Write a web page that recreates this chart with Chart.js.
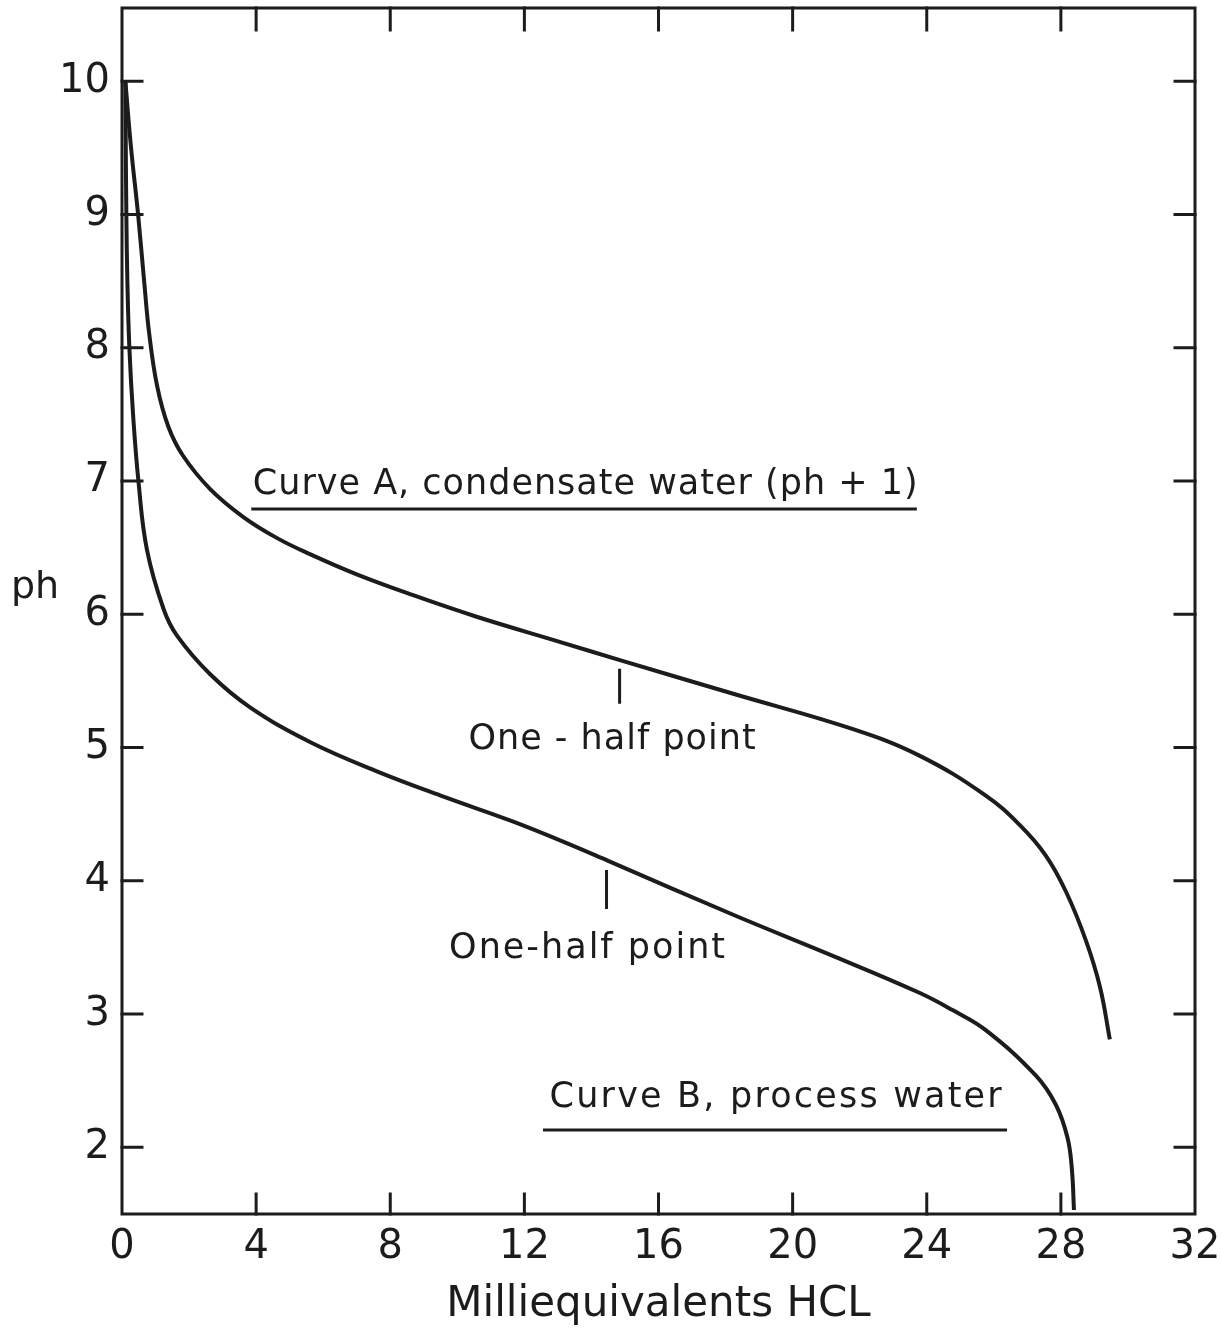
<!DOCTYPE html>
<html lang="en">
<head>
<meta charset="UTF-8">
<title>Titration curves - pH vs milliequivalents HCL</title>
<script src="https://cdn.jsdelivr.net/npm/chart.js"></script>
<style>
  * { box-sizing: border-box; margin: 0; padding: 0; }
  body { background: #fff; width: 1222px; height: 1334px; overflow: hidden; }
  #wrap { position: relative; width: 1222px; height: 1334px; }
</style>
</head>
<body>
<div id="wrap"><canvas id="titration" width="1222" height="1334"></canvas></div>
<script>
// Curve A, condensate water (plotted as pH + 1)
const mEqA = [0.1, 0.27, 0.48, 0.66, 0.81, 1.05, 1.38, 1.82, 2.63, 3.62, 4.64, 5.62, 7.0, 8.61, 10.6, 13.1, 14.8, 18.28, 21.78, 23.78, 25.76, 26.77, 27.55, 28.15, 28.75, 29.17, 29.46];
const phA  = [10.0, 9.5, 9.0, 8.5, 8.11, 7.71, 7.41, 7.19, 6.94, 6.73, 6.57, 6.45, 6.30, 6.15, 5.98, 5.79, 5.66, 5.4, 5.14, 4.94, 4.64, 4.42, 4.19, 3.92, 3.55, 3.20, 2.81];

// Curve B, process water
const mEqB = [0.1, 0.11, 0.13, 0.16, 0.22, 0.33, 0.49, 0.74, 1.24, 1.64, 2.63, 3.83, 5.62, 7.62, 9.61, 11.61, 13.1, 14.5, 18.28, 21.27, 23.78, 24.77, 25.76, 27.25, 27.85, 28.2, 28.33, 28.39];
const phB  = [10.0, 9.6, 9.0, 8.5, 8.0, 7.5, 7.0, 6.49, 6.04, 5.84, 5.55, 5.3, 5.04, 4.82, 4.63, 4.45, 4.30, 4.15, 3.74, 3.43, 3.16, 3.03, 2.88, 2.54, 2.32, 2.07, 1.83, 1.53];

// axis ticks
const xTickValues = [0, 4, 8, 12, 16, 20, 24, 28, 32];
const yTickValues = [2, 3, 4, 5, 6, 7, 8, 9, 10];

// one-half points (mEq, pH range of the marker)
const halfPointA = { x: 14.84, yTop: 5.58, yBottom: 5.34 };
const halfPointB = { x: 14.45, yTop: 4.07, yBottom: 3.80 };

const INK = '#1c1c1c';
const FONT = "'DejaVu Sans', sans-serif";

function toPoints(xs, ys) {
  return xs.map((x, i) => ({ x, y: ys[i] }));
}

// frame with inward ticks, plus the hand lettered notes
const paperPlugin = {
  id: 'paper',
  afterDatasetsDraw(chart) {
    const { ctx, chartArea: a } = chart;
    const xs = chart.scales.x, ys = chart.scales.y;
    ctx.save();
    ctx.strokeStyle = INK;
    ctx.fillStyle = INK;
    ctx.lineCap = 'square';

    ctx.lineWidth = 3;
    ctx.strokeRect(a.left, a.top, a.right - a.left, a.bottom - a.top);

    ctx.beginPath();
    xTickValues.forEach(v => {
      if (v <= xs.min || v >= xs.max) return;
      const px = xs.getPixelForValue(v);
      ctx.moveTo(px, a.bottom); ctx.lineTo(px, a.bottom - 20);
      ctx.moveTo(px, a.top); ctx.lineTo(px, a.top + 22);
    });
    yTickValues.forEach(v => {
      const py = ys.getPixelForValue(v);
      ctx.moveTo(a.left, py); ctx.lineTo(a.left + 20, py);
      ctx.moveTo(a.right, py); ctx.lineTo(a.right - 20, py);
    });
    ctx.stroke();

    // y title, upright
    ctx.font = `38px ${FONT}`;
    ctx.textAlign = 'center';
    ctx.textBaseline = 'middle';
    ctx.fillText('ph', 35, 588);

    // curve labels
    ctx.font = `35px ${FONT}`;
    ctx.textAlign = 'left';
    ctx.textBaseline = 'alphabetic';
    ctx.letterSpacing = '1px';
    ctx.fillText('Curve A, condensate water (ph + 1)', xs.getPixelForValue(3.9), ys.getPixelForValue(6.9));
    ctx.letterSpacing = '2.2px';
    ctx.fillText('Curve B, process water', xs.getPixelForValue(12.75), ys.getPixelForValue(2.3));

    ctx.beginPath();
    let uy = ys.getPixelForValue(6.79);
    ctx.moveTo(xs.getPixelForValue(3.9), uy); ctx.lineTo(xs.getPixelForValue(23.66), uy);
    uy = ys.getPixelForValue(2.13);
    ctx.moveTo(xs.getPixelForValue(12.6), uy); ctx.lineTo(xs.getPixelForValue(26.35), uy);
    ctx.stroke();

    // one-half point markers
    ctx.beginPath();
    [halfPointA, halfPointB].forEach(h => {
      const px = xs.getPixelForValue(h.x);
      ctx.moveTo(px, ys.getPixelForValue(h.yTop));
      ctx.lineTo(px, ys.getPixelForValue(h.yBottom));
    });
    ctx.stroke();

    ctx.textAlign = 'center';
    ctx.letterSpacing = '1px';
    ctx.fillText('One - half point', xs.getPixelForValue(14.63), ys.getPixelForValue(4.99));
    ctx.letterSpacing = '2px';
    ctx.fillText('One-half point', xs.getPixelForValue(13.9), ys.getPixelForValue(3.42));
    ctx.restore();
  }
};

const curveStyle = {
  borderColor: INK,
  borderWidth: 4,
  pointRadius: 0,
  fill: false,
  tension: 0.4
};

new Chart(document.getElementById('titration').getContext('2d'), {
  type: 'line',
  data: {
    datasets: [
      { label: 'Curve A, condensate water (ph + 1)', data: toPoints(mEqA, phA), ...curveStyle },
      { label: 'Curve B, process water', data: toPoints(mEqB, phB), ...curveStyle }
    ]
  },
  options: {
    responsive: false,
    animation: false,
    layout: { padding: { top: 8, right: 27, left: 0, bottom: 0 } },
    plugins: {
      legend: { display: false },
      tooltip: { enabled: false }
    },
    scales: {
      x: {
        type: 'linear',
        min: 0,
        max: 32,
        afterBuildTicks: s => { s.ticks = xTickValues.map(v => ({ value: v })); },
        afterFit: s => { s.height = 120; s.paddingLeft = 0; s.paddingRight = 0; },
        grid: { display: false },
        border: { display: false },
        ticks: { color: INK, font: { family: FONT, size: 40 }, padding: 2, maxRotation: 0 },
        title: {
          display: true,
          text: 'Milliequivalents HCL',
          color: INK,
          font: { family: FONT, size: 42 },
          padding: { top: 6 }
        }
      },
      y: {
        type: 'linear',
        min: 1.5,
        max: 10.55,
        afterBuildTicks: s => { s.ticks = yTickValues.map(v => ({ value: v })); },
        afterFit: s => { s.width = 122; s.paddingTop = 0; s.paddingBottom = 0; },
        grid: { display: false },
        border: { display: false },
        ticks: { color: INK, font: { family: FONT, size: 40 }, padding: 4 }
      }
    }
  },
  plugins: [paperPlugin]
});
</script>
</body>
</html>
